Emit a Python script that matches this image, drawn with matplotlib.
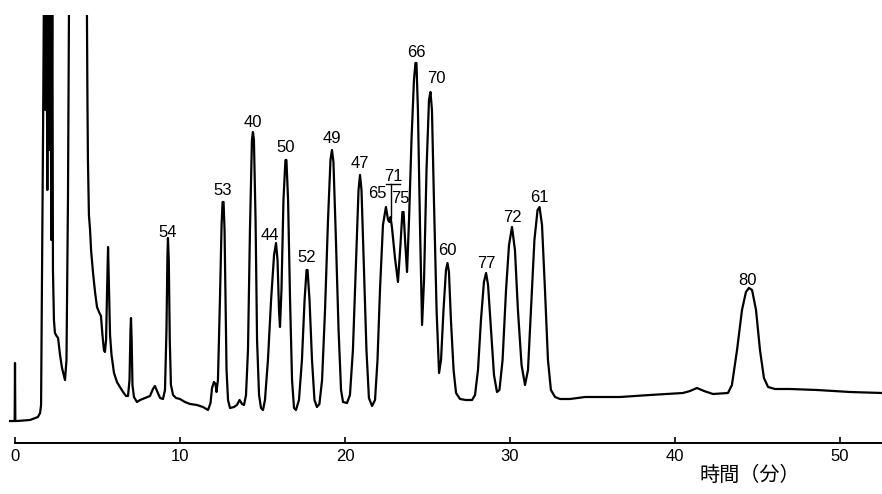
import matplotlib.pyplot as plt

# chromatogram trace: time (min), detector signal (chart units)
time_min = [
    -0.30, -0.02, 0.00, 0.02, 0.12, 0.91, 1.39, 1.52, 1.58, 1.70,
    1.78, 1.84, 1.90, 1.96, 2.02, 2.08, 2.14, 2.20, 2.26, 2.30,
    2.36, 2.42, 2.52, 2.61, 2.73, 2.85, 3.03, 3.12, 3.21, 3.30,
    3.36, 4.30, 4.36, 4.39, 4.42, 4.48, 4.55, 4.61, 4.73, 4.85,
    4.97, 5.09, 5.21, 5.30, 5.39, 5.45, 5.52, 5.58, 5.64, 5.70,
    5.76, 5.85, 6.00, 6.18, 6.36, 6.55, 6.73, 6.85, 6.94, 7.00,
    7.03, 7.07, 7.12, 7.21, 7.39, 7.58, 7.88, 8.18, 8.36, 8.48,
    8.61, 8.79, 8.97, 9.09, 9.18, 9.24, 9.27, 9.32, 9.38, 9.45,
    9.58, 9.76, 10.00, 10.30, 10.61, 11.03, 11.39, 11.70, 11.85, 11.94,
    12.06, 12.15, 12.21, 12.30, 12.42, 12.52, 12.58, 12.64, 12.70, 12.76,
    12.82, 12.91, 13.03, 13.27, 13.45, 13.61, 13.76, 13.88, 14.00, 14.12,
    14.24, 14.36, 14.42, 14.48, 14.58, 14.67, 14.79, 14.91, 15.03, 15.15,
    15.33, 15.52, 15.70, 15.82, 15.91, 16.00, 16.06, 16.15, 16.27, 16.39,
    16.45, 16.55, 16.67, 16.79, 16.91, 17.03, 17.21, 17.39, 17.55, 17.67,
    17.73, 17.85, 18.00, 18.15, 18.30, 18.45, 18.61, 18.79, 18.97, 19.12,
    19.21, 19.30, 19.45, 19.61, 19.76, 19.88, 20.12, 20.30, 20.48, 20.67,
    20.82, 20.91, 21.00, 21.15, 21.30, 21.45, 21.64, 21.82, 21.97, 22.12,
    22.30, 22.48, 22.61, 22.70, 22.76, 22.85, 23.03, 23.21, 23.36, 23.48,
    23.55, 23.64, 23.76, 23.88, 24.03, 24.18, 24.27, 24.33, 24.42, 24.55,
    24.67, 24.79, 24.94, 25.09, 25.18, 25.27, 25.39, 25.55, 25.70, 25.82,
    25.97, 26.12, 26.21, 26.30, 26.42, 26.58, 26.73, 26.97, 27.33, 27.70,
    27.88, 28.06, 28.24, 28.42, 28.55, 28.67, 28.85, 29.03, 29.21, 29.36,
    29.55, 29.76, 29.94, 30.12, 30.30, 30.48, 30.70, 30.91, 31.09, 31.27,
    31.48, 31.67, 31.79, 31.94, 32.12, 32.30, 32.48, 32.73, 33.03, 33.64,
    34.55, 35.45, 36.67, 38.48, 40.48, 40.91, 41.33, 41.76, 42.30, 43.21,
    43.45, 43.76, 44.06, 44.30, 44.48, 44.67, 44.91, 45.15, 45.39, 45.64,
    46.06, 46.97, 48.61, 50.61, 52.55,
]
signal = [
    22, 22, 80, 22, 22, 23, 26, 30, 38, 310,
    523, 333, 523, 253, 523, 293, 523, 203, 483, 173,
    123, 110, 107, 105, 88, 75, 63, 83, 243, 523,
    523, 523, 428, 343, 283, 228, 213, 193, 170, 151,
    136, 131, 127, 108, 93, 91, 103, 153, 196, 153,
    108, 88, 70, 61, 56, 51, 47, 47, 63, 113,
    125, 103, 58, 46, 41, 43, 45, 47, 54, 57,
    52, 45, 44, 53, 113, 188, 205, 183, 103, 58,
    48, 45, 44, 41, 39, 38, 36, 33, 40, 55,
    61, 59, 51, 63, 143, 218, 241, 241, 213, 143,
    73, 43, 35, 36, 38, 43, 39, 38, 48, 93,
    213, 303, 311, 303, 223, 103, 48, 35, 33, 43,
    83, 143, 188, 200, 183, 133, 116, 153, 243, 283,
    283, 243, 143, 63, 35, 33, 43, 83, 143, 173,
    173, 143, 83, 43, 36, 39, 63, 133, 223, 283,
    293, 281, 203, 113, 53, 41, 40, 48, 93, 183,
    253, 268, 253, 173, 93, 45, 37, 43, 83, 153,
    218, 236, 223, 221, 226, 215, 185, 161, 198, 231,
    231, 203, 171, 223, 303, 363, 380, 380, 333, 213,
    118, 163, 273, 343, 351, 333, 243, 133, 70, 83,
    133, 173, 180, 171, 123, 73, 50, 44, 43, 43,
    48, 73, 123, 161, 170, 158, 113, 68, 51, 53,
    83, 153, 198, 216, 193, 133, 78, 58, 73, 133,
    203, 233, 236, 218, 153, 83, 53, 46, 44, 44,
    46, 46, 46, 48, 50, 52, 55, 52, 49, 50,
    58, 93, 133, 151, 155, 153, 133, 93, 65, 56,
    54, 54, 53, 51, 50,
]

# peak labels (compound numbers) and where they sit
peak_names = ['54', '53', '40', '44', '50', '52', '49', '47', '65', '71',
              '75', '66', '70', '60', '77', '72', '61', '80']
label_t = [9.27, 12.61, 14.42, 15.45, 16.42, 17.70, 19.21, 20.91, 21.94, 22.91,
           23.33, 24.30, 25.52, 26.18, 28.55, 30.12, 31.76, 44.42]
label_s = [211, 253, 321, 208, 296, 186, 305, 280, 250, 267,
           245, 391, 365, 193, 180, 226, 246, 163]
peak71_t = 22.79
peak71_s = 225

fig = plt.figure(figsize=(8.82, 4.94), dpi=100)
ax = fig.add_axes([0, 0, 1, 479 / 494])
ax.plot(time_min, signal, color='black', lw=1.6, solid_joinstyle='round')

for name, t, s in zip(peak_names, label_t, label_s):
    ax.text(t, s, name, ha='center', va='center', fontsize=12,
            family='Liberation Sans', color='black')

# leader for peak 71
i71 = peak_names.index('71')
ax.plot([label_t[i71] - 0.45, label_t[i71] + 0.45], [label_s[i71] - 8] * 2,
        color='black', lw=1)
ax.plot([peak71_t, peak71_t], [label_s[i71] - 8, peak71_s], color='black', lw=1)

ax.set_xlim(-15 / 16.5, 867 / 16.5)
ax.set_ylim(-51, 428)
for side in ['top', 'left', 'right']:
    ax.spines[side].set_visible(False)
ax.spines['bottom'].set_position(('data', 0))
ax.spines['bottom'].set_bounds(0, 53)
ax.spines['bottom'].set_linewidth(1.4)
ax.set_yticks([])
ax.set_xticks([0, 10, 20, 30, 40, 50])
ax.tick_params(axis='x', direction='in', length=4, width=1.2, pad=4,
               labelsize=12)
for lab in ax.get_xticklabels():
    lab.set_family('Liberation Sans')
ax.patch.set_alpha(0)

ax.text(44.55, -32, '時間（分）', ha='center', va='center', fontsize=14.5,
        family=['Noto Sans CJK JP', 'DejaVu Sans'])

fig.savefig('out.png', dpi=100, facecolor='white')
